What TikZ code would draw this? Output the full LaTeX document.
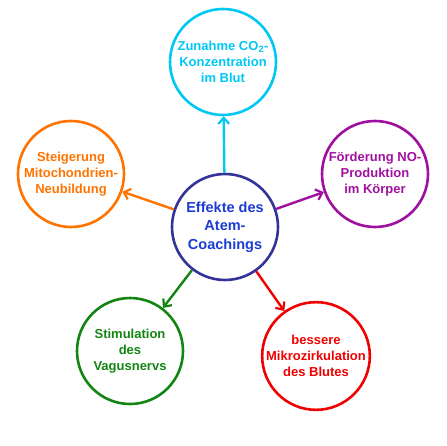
\documentclass[tikz,border=0pt]{standalone}
\usepackage{fontspec}
\setmainfont{Liberation Sans}
\usepackage{tikz}
\usetikzlibrary{arrows.meta}
\definecolor{mCyan}{HTML}{00C8F5}
\definecolor{mIndigo}{HTML}{333399}
\definecolor{mBlue}{HTML}{1A3BD4}
\definecolor{mPurple}{HTML}{A010A0}
\definecolor{mOrange}{HTML}{FF7300}
\definecolor{mGreen}{HTML}{138513}
\definecolor{mRed}{HTML}{F00000}

\begin{document}
\begin{tikzpicture}[x=1pt, y=-1pt,
    bubble/.style={circle, draw, line width=2.6pt, minimum size=106pt, inner sep=0pt,
      align=center, font=\fontsize{13}{16}\selectfont\bfseries},
    arr/.style={line width=2.4pt, -{Straight Barb[length=6pt, width=11pt, line width=2.2pt]}}]
    \useasboundingbox (0,0) rectangle (446,446);
    % centre
    \node[bubble, draw=mIndigo, text=mBlue, font=\fontsize{14.5}{18.5}\selectfont\bfseries]
      (core) at (225,227) {Effekte des\\Atem-\\Coachings};
    % effects
    \node[bubble, draw=mCyan, text=mCyan] (co2) at (223,62) {Zunahme CO\textsubscript{2}-\\Konzentration\\im Blut};
    \node[bubble, draw=mPurple, text=mPurple] (no) at (375,174) {Förderung NO-\\Produktion\\im Körper};
    \node[bubble, draw=mOrange, text=mOrange] (mito) at (71,174) {Steigerung\\Mitochondrien-\\Neubildung};
    \node[bubble, draw=mGreen, text=mGreen] (vagus) at (130,351) {Stimulation\\des\\Vagusnervs};
    \node[bubble, draw=mRed, text=mRed] (micro) at (316,356) {bessere\\Mikrozirkulation\\des Blutes};
    % arrows
    \draw[arr, mCyan] (core) -- (co2);
    \draw[arr, mPurple] (core) -- (no);
    \draw[arr, mOrange] (core) -- (mito);
    \draw[arr, mGreen] (core) -- (vagus);
    \draw[arr, mRed] (core) -- (micro);
  \end{tikzpicture}
\end{document}
